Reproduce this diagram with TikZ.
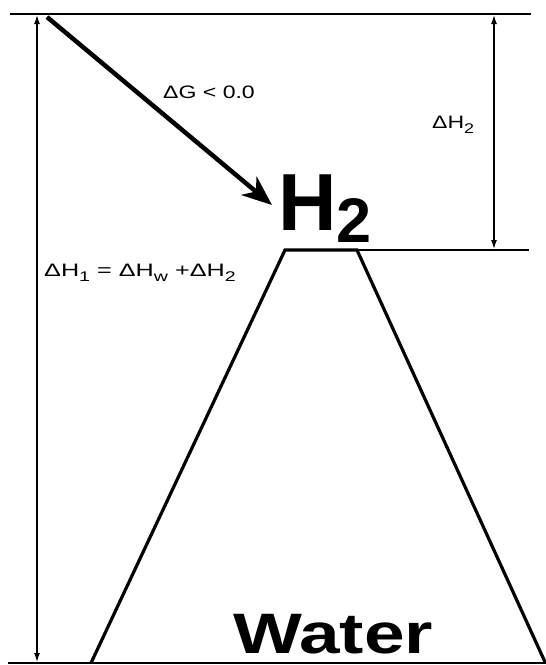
\documentclass[tikz,border=0pt]{standalone}
\usepackage{fontspec}
\setmainfont{Liberation Sans}
\usetikzlibrary{arrows.meta}
\newcommand\sublow[1]{\raisebox{-.28em}{\fontsize{14}{14}\selectfont #1}}

\begin{document}
\begin{tikzpicture}[x=1pt,y=-1pt,
    level/.style={line width=1.6pt},
    span/.style={line width=1.3pt,{Latex[length=9pt,width=6pt]}-{Latex[length=9pt,width=6pt]}},
    tag/.style={font=\fontsize{18}{18}\selectfont,inner sep=0pt,anchor=base west}]
  \useasboundingbox (0,0) rectangle (546,665);
  % reference levels
  \coordinate (topL) at (10,14);
  \coordinate (topR) at (531,14);
  \coordinate (botL) at (8,663);
  \coordinate (botR) at (546,663);
  \coordinate (peakL) at (285,250);
  \coordinate (peakR) at (357,250);
  \coordinate (levR) at (529,250);
  \coordinate (baseL) at (91,663);
  \coordinate (baseR) at (545,662);
  \draw[level] (topL)--(topR);
  \draw[level] (botL)--(botR);
  \draw[level] (peakR)--(levR);
  % the hill of water
  \draw[line width=3.2pt,line join=miter] (baseL)--(peakL)--(peakR)--(baseR);
  % spans
  \coordinate (h1top) at (37,15);
  \coordinate (h1bot) at (37,662);
  \coordinate (h2top) at (494,15);
  \coordinate (h2bot) at (494,249);
  \draw[span] (h1top)--(h1bot);
  \draw[span] (h2top)--(h2bot);
  % labels
  \node[tag] (dG) at (163,98) {\scalebox{1.28}[1]{ΔG < 0.0}};
  \node[tag] (dH2) at (432,128) {\scalebox{1.28}[1]{ΔH\sublow{2}}};
  \node[tag] (dH1) at (44,276) {\scalebox{1.4}[1]{ΔH\sublow{1} = ΔH\sublow{w} +ΔH\sublow{2}}};
  \node[anchor=base west,inner sep=0pt] (htwo) at (278,230)
    {\fontsize{81}{81}\bfseries H\raisebox{-12pt}{\fontsize{63}{63}\selectfont 2}};
  \node[anchor=base west,inner sep=0pt] (water) at (233,653)
    {\fontsize{57}{57}\bfseries\scalebox{1.28}[1]{Water}};
  % downhill arrow
  \coordinate (gstart) at (47,17);
  \coordinate (gtip) at (272,205);
  \draw[line width=4.5pt,-{Stealth[length=30pt,width=24pt,inset=9pt]}] (gstart)--(gtip);
\end{tikzpicture}
\end{document}
